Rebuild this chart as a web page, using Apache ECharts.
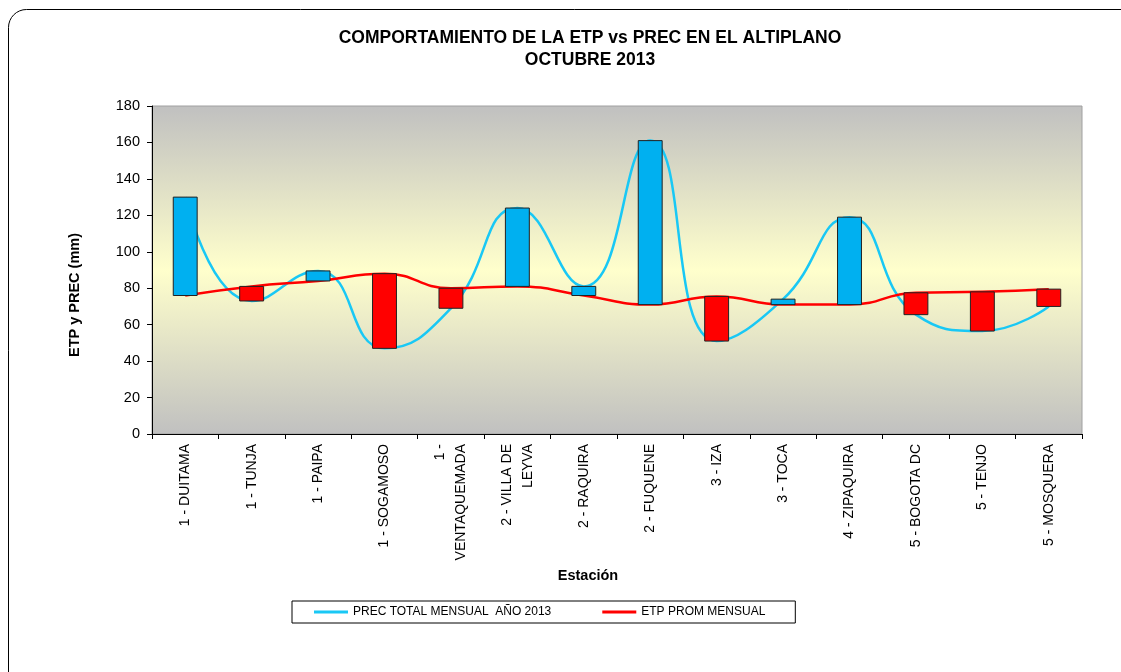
<!DOCTYPE html>
<html>
<head>
<meta charset="utf-8">
<script src="https://cdn.jsdelivr.net/npm/echarts@6/dist/echarts.min.js"></script>
<style>
html,body{margin:0;padding:0;background:#fff;}
#chart{width:1121px;height:672px;}
</style>
</head>
<body>
<div id="chart"></div>
<script>
const stations = ["1 - DUITAMA","1 - TUNJA","1 - PAIPA","1 - SOGAMOSO","1 -\nVENTAQUEMADA","2 - VILLA DE\nLEYVA","2 - RAQUIRA","2 - FUQUENE","3 - IZA","3 - TOCA","4 - ZIPAQUIRA","5 - BOGOTA DC","5 - TENJO","5 - MOSQUERA"];
const prec = [130, 73, 89.5, 47, 69, 124, 81, 161, 51, 74, 119, 65.5, 56.5, 70];
const etp  = [76, 81, 84, 88, 80, 81, 76, 71, 75.5, 71, 71, 77.5, 78, 79.5];
const yTicks = [0, 20, 40, 60, 80, 100, 120, 140, 160, 180];

const FONT = '"Liberation Sans", Arial, sans-serif';
const upDown = prec.map((p, i) => [i, p, etp[i]]);

const chart = echarts.init(document.getElementById('chart'), null, {renderer: 'canvas'});
chart.setOption({
  animation: false,
  backgroundColor: '#ffffff',
  textStyle: {fontFamily: FONT},
  graphic: [{
    type: 'rect', left: 6, top: 7, z: -10, silent: true,
    shape: {width: 1135, height: 685, r: 18},
    style: {fill: 'none', stroke: '#000', lineWidth: 1}
  }, {
    type: 'text', x: 588, y: 576, silent: true,
    style: {text: 'Estación', fontFamily: FONT, fontSize: 14.5, fontWeight: 'bold', fill: '#000', textAlign: 'center', textVerticalAlign: 'middle'}
  }, {
    type: 'text', x: 75, y: 295, rotation: Math.PI / 2, silent: true,
    style: {text: 'ETP y PREC (mm)', fontFamily: FONT, fontSize: 14.5, fontWeight: 'bold', fill: '#000', textAlign: 'center', textVerticalAlign: 'middle'}
  }],
  title: {
    text: 'COMPORTAMIENTO DE LA ETP vs PREC EN EL ALTIPLANO\nOCTUBRE 2013',
    left: 585, top: 22, textAlign: 'center',
    textStyle: {fontFamily: FONT, fontSize: 17.5, fontWeight: 'bold', color: '#000', lineHeight: 22}
  },
  legend: {
    left: 292, top: 601,
    data: [
      {name: 'PREC TOTAL MENSUAL  AÑO 2013', icon: 'rect'},
      {name: 'ETP PROM MENSUAL', icon: 'rect'}
    ],
    itemWidth: 34, itemHeight: 3, itemGap: 51,
    padding: [5, 30, 5, 22],
    borderColor: '#000', borderWidth: 1,
    textStyle: {fontFamily: FONT, fontSize: 12, color: '#000'}
  },
  grid: {
    left: 152, top: 106, right: 39, bottom: 238,
    show: true, borderColor: '#a0a0a0', borderWidth: 1,
    backgroundColor: {
      type: 'linear', x: 0, y: 0, x2: 0, y2: 1,
      colorStops: [
        {offset: 0, color: '#c0c0c0'},
        {offset: 0.5, color: '#ffffcc'},
        {offset: 1, color: '#c0c0c0'}
      ]
    }
  },
  xAxis: {
    type: 'category', data: stations, boundaryGap: true,
    axisLine: {lineStyle: {color: '#000', width: 1}},
    axisTick: {show: true, length: 5, lineStyle: {color: '#000'}},
    axisLabel: {rotate: 90, fontFamily: FONT, fontSize: 14, color: '#000', margin: 10, lineHeight: 21, interval: 0},
    splitLine: {show: false}
  },
  yAxis: {
    type: 'value', min: 0, max: 180, interval: 20,
    axisLine: {show: true, lineStyle: {color: '#000', width: 1}},
    axisTick: {show: true, length: 5, lineStyle: {color: '#000'}},
    axisLabel: {fontFamily: FONT, fontSize: 14.5, color: '#000', margin: 12,
      formatter: v => yTicks.indexOf(v) >= 0 ? String(v) : ''},
    splitLine: {show: false}
  },
  series: [
    {
      name: 'PREC TOTAL MENSUAL  AÑO 2013', type: 'line', data: prec,
      smooth: 0.5, symbol: 'none', z: 2,
      lineStyle: {color: '#19c8f5', width: 2.5}, itemStyle: {color: '#19c8f5'}
    },
    {
      name: 'ETP PROM MENSUAL', type: 'line', data: etp,
      smooth: 0.5, symbol: 'none', z: 2,
      lineStyle: {color: '#ff0000', width: 2.5}, itemStyle: {color: '#ff0000'}
    },
    {
      name: 'updown', type: 'custom', data: upDown, z: 5,
      encode: {x: 0, y: [1, 2]},
      renderItem: function (params, api) {
        const i = api.value(0);
        const p = api.coord([i, api.value(1)]);
        const e = api.coord([i, api.value(2)]);
        const w = api.size([1, 0])[0] * 0.36;
        const top = Math.min(p[1], e[1]);
        const h = Math.abs(p[1] - e[1]);
        return {
          type: 'rect',
          shape: {x: p[0] - w / 2, y: top, width: w, height: h},
          style: {fill: api.value(1) >= api.value(2) ? '#00b0f0' : '#ff0000', stroke: '#222', lineWidth: 1}
        };
      }
    }
  ]
});
</script>
</body>
</html>
